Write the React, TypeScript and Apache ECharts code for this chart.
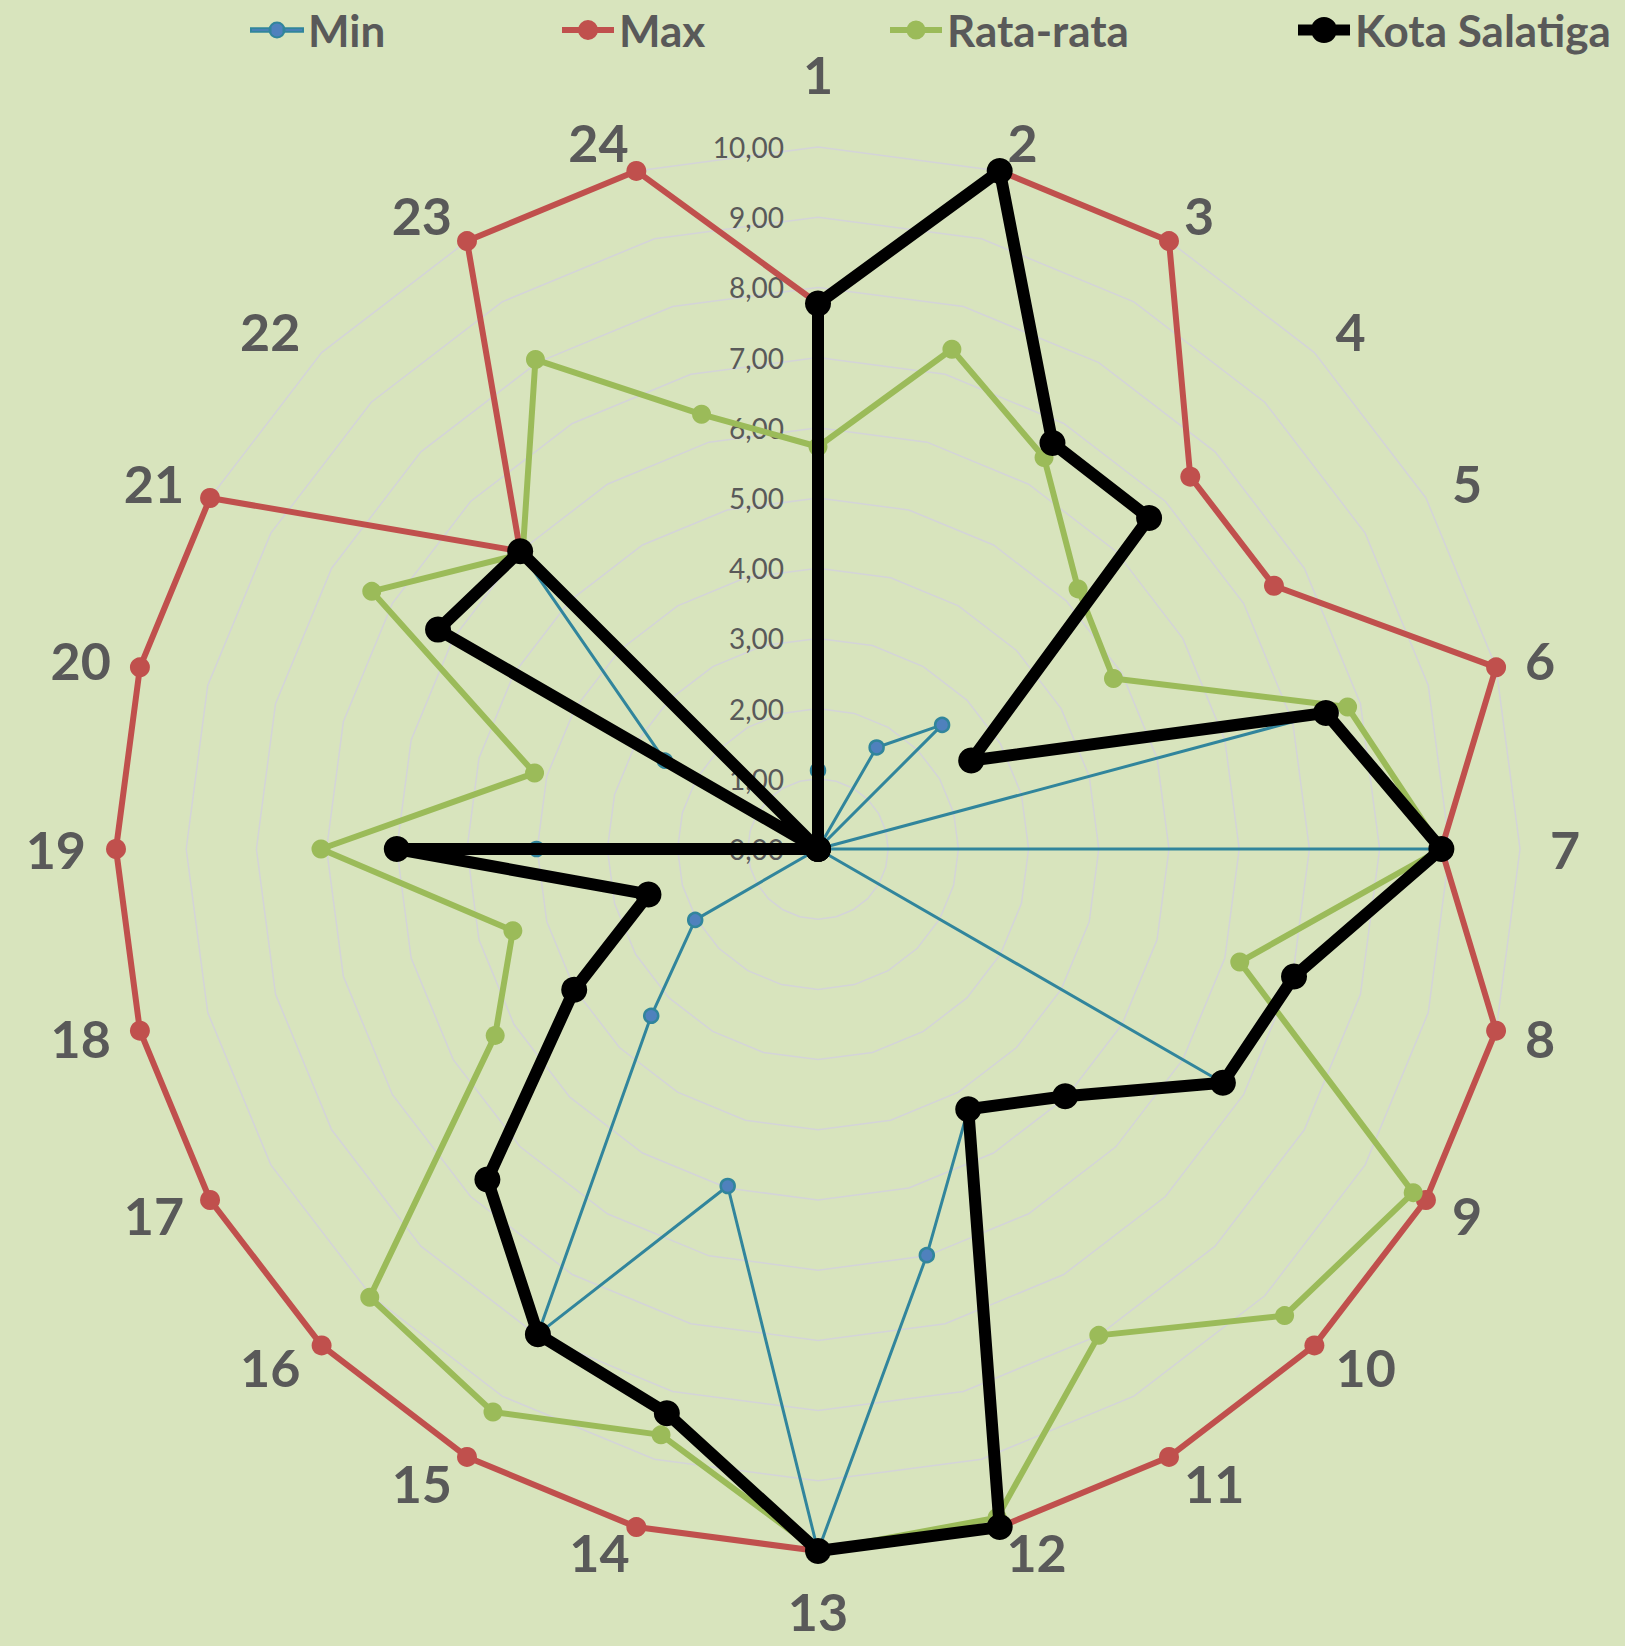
import React, { useEffect, useRef } from 'react';
import * as echarts from 'echarts';

const categories = ['1', '2', '3', '4', '5', '6', '7', '8', '9', '10', '11', '12', '13', '14', '15', '16', '17', '18', '19', '20', '21', '22', '23', '24'];
const minValues = [1.12, 0, 1.67, 2.5, 0, 7.49, 8.88, 0, 6.66, 4.98, 4.28, 5.99, 10, 4.97, 7.98, 3.36, 2.02, 0, 4.01, 0, 2.52, 6.0, 0, 0];
const maxValues = [7.77, 10, 10, 7.5, 7.5, 10, 8.88, 10, 10, 10, 10, 10, 10, 10, 10, 10, 10, 10, 10, 10, 10, 6.0, 10, 10];
const avgValues = [5.73, 7.37, 6.44, 5.24, 4.86, 7.81, 8.88, 6.22, 9.79, 9.4, 8.0, 9.86, 10, 8.64, 9.26, 9.03, 5.31, 4.5, 7.08, 4.18, 7.34, 5.95, 8.05, 6.41];
const cityValues = [7.77, 10, 6.68, 6.67, 2.52, 7.49, 8.88, 7.02, 6.66, 4.98, 4.28, 10, 10, 8.32, 7.98, 6.66, 4.01, 2.5, 6.0, 0, 6.25, 6.0, 0, 0];
const seriesNames = ['Min', 'Max', 'Rata-rata', 'Kota Salatiga'];
const axisMax = 10;
const axisSplits = 10;

// ECharts places radar indicators counter-clockwise; the reference goes clockwise.
function clockwise<T>(arr: T[]): T[] {
  return [arr[0], ...arr.slice(1).reverse()];
}

function legendIcon(thickness: number, diameter: number): string {
  const w = 52;
  const r = diameter / 2;
  const y0 = r - thickness / 2;
  const y1 = y0 + thickness;
  const cl = w / 2 - r;
  const cr = w / 2 + r;
  return `path://M0,${y0}L${cl + 1},${y0}L${cl + 1},${y1}L0,${y1}Z M${cr - 1},${y0}L${w},${y0}L${w},${y1}L${cr - 1},${y1}Z M${cl},${r}A${r},${r} 0 1,1 ${cr},${r}A${r},${r} 0 1,1 ${cl},${r}Z`;
}

const GRAY = '#595959';
const FONT = 'Lato, "Open Sans", sans-serif';

function nameGapFor(label: string): number {
  if (label === '1') return 47;
  if (label === '13') return 40;
  if (label === '12' || label === '14') return 26;
  return 30;
}

export default function App() {
  const ref = useRef<HTMLDivElement>(null);
  useEffect(() => {
    if (!ref.current) return;
    const chart = echarts.init(ref.current, undefined, { renderer: 'svg' });
    const cats = clockwise(categories);
    const indicator = cats.map((c, i) => {
      const ind: any = { name: c, max: axisMax, min: 0, nameGap: nameGapFor(c) };
      if (i === 0) ind.axisLabel = { show: true };
      if (c === '13') ind.nameTextStyle = { lineHeight: 40 };
      return ind;
    });
    const styles = [
      { line: '#31859C', fill: '#4F81BD', width: 3, size: 14, border: 2.5, legendT: 3.5, legendD: 15, left: 250 },
      { line: '#C0504D', fill: '#C0504D', width: 6, size: 20, border: 0, legendT: 6, legendD: 20, left: 562 },
      { line: '#9BBB59', fill: '#9BBB59', width: 6, size: 19, border: 0, legendT: 6, legendD: 19, left: 890 },
      { line: '#000000', fill: '#000000', width: 12, size: 26, border: 0, legendT: 11, legendD: 26, left: 1298 },
    ];
    const values = [minValues, maxValues, avgValues, cityValues];
    const option: any = {
      animation: false,
      backgroundColor: '#D8E4BD',
      legend: styles.map((s, i) => ({
        data: [{ name: seriesNames[i], icon: legendIcon(s.legendT, s.legendD) }],
        left: s.left,
        top: 8,
        padding: 0,
        itemWidth: 52,
        itemHeight: s.legendD,
        selectedMode: false,
        textStyle: { color: GRAY, fontSize: 44, fontWeight: 'bold', fontFamily: FONT, lineHeight: 44 },
      })),
      radar: {
        center: [818, 849],
        radius: 702,
        startAngle: 90,
        shape: 'polygon',
        splitNumber: axisSplits,
        indicator,
        nameGap: 30,
        axisName: { color: GRAY, fontSize: 52, fontWeight: 'bold', fontFamily: FONT },
        axisLine: { show: false },
        axisTick: { show: false },
        axisLabel: {
          show: false,
          color: GRAY,
          fontSize: 28,
          fontFamily: FONT,
          margin: 34,
          formatter: (v: number) => v.toFixed(2).replace('.', ','),
        },
        splitLine: { lineStyle: { color: '#D4D4D8', width: 1.5 } },
        splitArea: { show: false },
      },
      series: styles.map((s, i) => ({
        type: 'radar',
        name: seriesNames[i],
        symbol: 'circle',
        symbolSize: s.size,
        lineStyle: { color: s.line, width: s.width },
        itemStyle: { color: s.fill, borderColor: s.line, borderWidth: s.border },
        data: [{ name: seriesNames[i], value: clockwise(values[i]) }],
        z: 2 + i,
      })),
    };
    chart.setOption(option);
    return () => chart.dispose();
  }, []);
  return <div ref={ref} style={{ position: 'absolute', left: 0, top: 0, width: 1625, height: 1646 }} />;
}
